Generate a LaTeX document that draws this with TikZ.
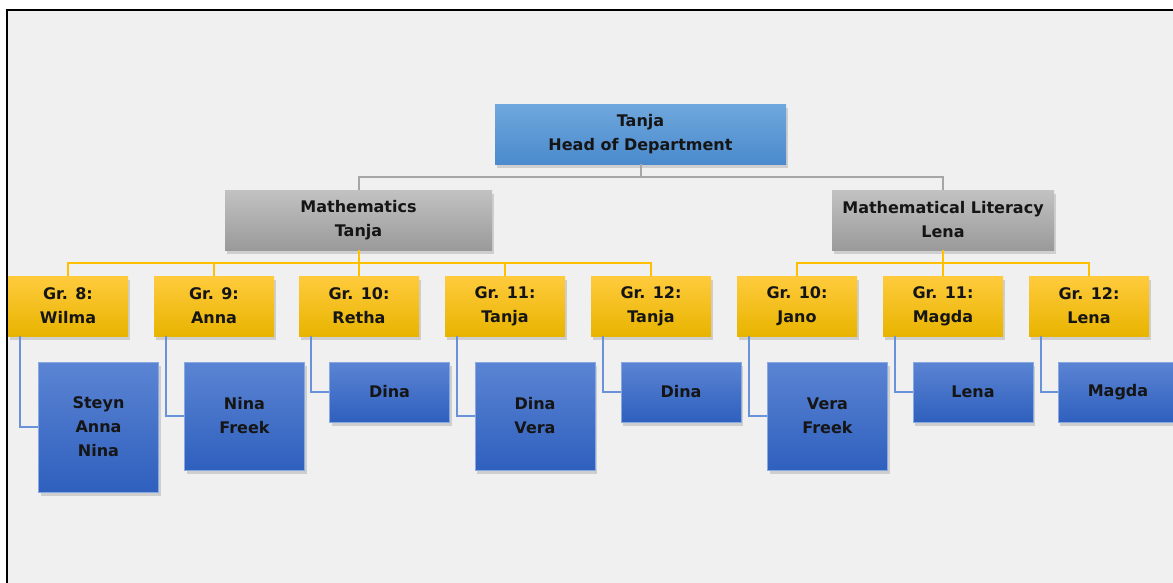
\documentclass[tikz,border=0pt]{standalone}
\usepackage{fontspec}
\setmainfont{DejaVu Sans}
\usetikzlibrary{shadows}
\definecolor{pagegrey}{HTML}{F0F0F0}
\definecolor{headtop}{HTML}{6FA8DC}
\definecolor{headbot}{HTML}{4A8ACD}
\definecolor{greytop}{HTML}{C2C2C2}
\definecolor{greybot}{HTML}{9A9A9A}
\definecolor{goldtop}{HTML}{FFCB3D}
\definecolor{goldbot}{HTML}{E8B400}
\definecolor{bluetop}{HTML}{5B84D3}
\definecolor{bluebot}{HTML}{2F60BE}
\definecolor{greyline}{HTML}{A6A6A6}
\definecolor{goldline}{HTML}{FFC000}
\definecolor{blueline}{HTML}{6A92DA}
\definecolor{inktext}{HTML}{151515}
\begin{document}
\begin{tikzpicture}[x=1pt,y=-1pt,
	box/.style={rectangle,inner sep=0pt,text=inktext,align=center,minimum height=60pt,
		font=\bfseries\fontsize{16}{24}\selectfont,
		drop shadow={shadow xshift=2pt,shadow yshift=-4pt,opacity=0.3}},
	headbox/.style={box,top color=headtop,bottom color=headbot},
	subjectbox/.style={box,top color=greytop,bottom color=greybot},
	gradebox/.style={box,top color=goldtop,bottom color=goldbot,minimum width=120pt},
	staffbox/.style={box,top color=bluetop,bottom color=bluebot,draw=blueline!80,line width=0.6pt,minimum width=120pt},
	tolead/.style={draw=greyline,line width=2pt},
	tograde/.style={draw=goldline,line width=2pt},
	tostaff/.style={draw=blueline,line width=2pt}]
	\useasboundingbox (0,0) rectangle (1173,582);
	\fill[white] (0,0) rectangle (1173,582);
	\fill[pagegrey] (7,10) rectangle (1180,590);
	\draw[black,line width=2.2pt] (7,590)--(7,10)--(1180,10);

	\node[headbox,minimum width=291pt] (head) at (640.5,134) {Tanja\\Head of Department};
	\node[subjectbox,minimum width=267pt] (maths) at (358.5,220) {Mathematics\\Tanja};
	\node[subjectbox,minimum width=222pt] (lit) at (943,220) {Mathematical Literacy\\Lena};

	\node[gradebox] (g8) at (68,306) {Gr. 8:\\Wilma};
	\node[gradebox] (g9) at (214,306) {Gr. 9:\\Anna};
	\node[gradebox] (g10) at (359,306) {Gr. 10:\\Retha};
	\node[gradebox] (g11) at (505,306) {Gr. 11:\\Tanja};
	\node[gradebox] (g12) at (651,306) {Gr. 12:\\Tanja};
	\node[gradebox] (lg10) at (797,306) {Gr. 10:\\Jano};
	\node[gradebox] (lg11) at (943,306) {Gr. 11:\\Magda};
	\node[gradebox] (lg12) at (1089,306) {Gr. 12:\\Lena};

	\node[staffbox,minimum height=130pt] (s8) at (98.5,427) {Steyn\\Anna\\Nina};
	\node[staffbox,minimum height=108pt] (s9) at (244.5,416) {Nina\\Freek};
	\node[staffbox] (s10) at (389.5,392) {Dina};
	\node[staffbox,minimum height=108pt] (s11) at (535,416) {Dina\\Vera};
	\node[staffbox] (s12) at (681,392) {Dina};
	\node[staffbox,minimum height=108pt] (ls10) at (827.5,416) {Vera\\Freek};
	\node[staffbox] (ls11) at (973,392) {Lena};
	\node[staffbox] (ls12) at (1118,392) {Magda};

	\draw[tolead] (head.south) -- ++(0,13) -| (maths.north);
	\draw[tolead] (head.south) -- ++(0,13) -| (lit.north);
	\draw[tograde] (maths.south) -- ++(0,13) -| (g8.north);
	\draw[tograde] (maths.south) -- ++(0,13) -| (g9.north);
	\draw[tograde] (maths.south) -- ++(0,13) -| (g10.north);
	\draw[tograde] (maths.south) -- ++(0,13) -| (g11.north);
	\draw[tograde] (maths.south) -- ++(0,13) -| (g12.north);
	\draw[tograde] (lit.south) -- ++(0,13) -| (lg10.north);
	\draw[tograde] (lit.south) -- ++(0,13) -| (lg11.north);
	\draw[tograde] (lit.south) -- ++(0,13) -| (lg12.north);
	\draw[tostaff] ([xshift=12pt]g8.south west) |- (s8.west);
	\draw[tostaff] ([xshift=12pt]g9.south west) |- (s9.west);
	\draw[tostaff] ([xshift=12pt]g10.south west) |- (s10.west);
	\draw[tostaff] ([xshift=12pt]g11.south west) |- (s11.west);
	\draw[tostaff] ([xshift=12pt]g12.south west) |- (s12.west);
	\draw[tostaff] ([xshift=12pt]lg10.south west) |- (ls10.west);
	\draw[tostaff] ([xshift=12pt]lg11.south west) |- (ls11.west);
	\draw[tostaff] ([xshift=12pt]lg12.south west) |- (ls12.west);
\end{tikzpicture}
\end{document}
